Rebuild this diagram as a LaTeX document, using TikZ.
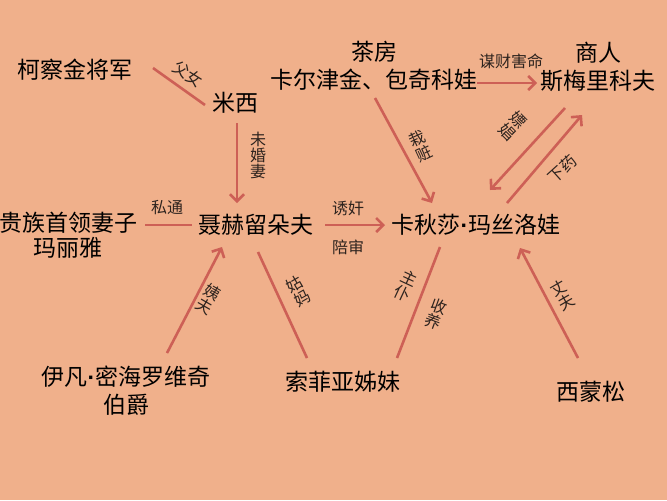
\documentclass[tikz,border=0pt]{standalone}
\usepackage{fontspec}
\setmainfont{Noto Sans CJK SC}
\newfontfamily\dotfont{Liberation Sans}
\newcommand{\mdot}{{\dotfont\bfseries ·}}
\usetikzlibrary{calc,arrows.meta}
\definecolor{bgc}{RGB}{240,176,139}
\definecolor{linec}{RGB}{205,96,86}
\definecolor{labc}{RGB}{45,35,30}
\tikzset{
  person/.style={inner sep=0pt,align=center,font=\fontsize{11.5}{12.5}\selectfont,text=black},
  person2/.style={person,font=\fontsize{11.5}{14}\selectfont},
  rel/.style={inner sep=0pt,align=center,font=\fontsize{8}{8}\selectfont,text=labc},
  link/.style={draw=linec,line width=1.3pt},
  arr/.style={link,-{Straight Barb[length=3.5pt,width=7pt,line width=1.3pt]}}
}
\begin{document}
\begin{tikzpicture}[x=0.5pt,y=-0.5pt]
\fill[bgc] (0,0) rectangle (667,500);
\useasboundingbox (0,0) rectangle (667,500);
% people
\node[person] (kc) at (75,70) {柯察金将军};
\node[person] (mx) at (235,103) {米西};
\node[person2] (cf) at (374,66) {茶房\\卡尔津金、包奇科娃};
\node[person2] (sr) at (598,67) {商人\\斯梅里科夫};
\node[person] (gz) at (68,235) {贵族首领妻子\\玛丽雅};
\node[person] (nh) at (256,225) {聂赫留朵夫};
\node[person] (ks) at (476,225) {卡秋莎\mdot 玛丝洛娃};
\node[person2] (yf) at (126,391) {伊凡\mdot 密海罗维奇\\伯爵};
\node[person] (sf) at (343,382) {索菲亚姊妹};
\node[person] (xm) at (591,392) {西蒙松};
% connectors
\draw[link] ($(kc)+(78,-2)$) -- ($(mx)+(-30,2)$);
\draw[arr]  ($(mx)+(2,20)$) -- ($(nh)+(-19,-22)$);
\draw[link] ($(gz)+(77,-10)$) -- ($(nh)+(-64,0)$);
\draw[arr]  ($(nh)+(69,0)$) -- ($(ks)+(-91,0)$);
\draw[arr]  ($(cf)+(1,32)$) -- ($(ks)+(-44,-22)$);
\draw[arr]  ($(cf)+(103,17)$) -- ($(sr)+(-61,16)$);
\draw[arr]  ($(sr)+(-33,41)$) -- ($(ks)+(14,-35)$);
\draw[arr]  ($(ks)+(31,-22)$) -- ($(sr)+(-16,48)$);
\draw[arr]  ($(yf)+(41,-38)$) -- ($(nh)+(-34,22)$);
\draw[link] ($(nh)+(2,27)$) -- ($(sf)+(-36,-24)$);
\draw[link] ($(sf)+(54,-24)$) -- ($(ks)+(-36,22)$);
\draw[arr]  ($(xm)+(-13,-34)$) -- ($(ks)+(44,23)$);
% labels
\node[rel,rotate=-32] (l1) at (188,74) {父女};
\node[rel] (l2) at (258,155) {未\\婚\\妻};
\node[rel] (l3) at (167,208) {私通};
\node[rel] (l4) at (348,208) {诱奸};
\node[rel] (l5) at (348,247) {陪审};
\node[rel,rotate=25] (l6) at (421,146) {栽\\赃};
\node[rel] (l7) at (511,61) {谋财害命};
\node[rel,rotate=-45] (l8) at (513,126) {嫖\\娼};
\node[rel,rotate=42] (l9) at (562,169) {下药};
\node[rel,rotate=-30] (l10) at (208,299) {姨\\夫};
\node[rel,rotate=30] (l11) at (298,291) {姑\\妈};
\node[rel,rotate=-25] (l12) at (406,286) {主\\仆};
\node[rel,rotate=-20] (l13) at (436,314) {收\\养};
\node[rel,rotate=30] (l14) at (562,295) {丈\\夫};
\end{tikzpicture}
\end{document}
